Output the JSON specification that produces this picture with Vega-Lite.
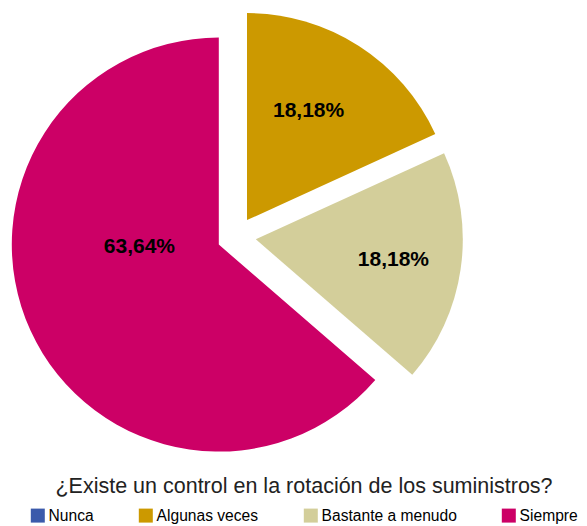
{
  "$schema": "https://vega.github.io/schema/vega-lite/v6.json",
  "width": 463,
  "height": 463,
  "autosize": {"type": "none"},
  "padding": {"left": 5, "top": 5, "right": 119, "bottom": 58},
  "background": "white",
  "data": {
    "values": [
      {"cat": "Nunca", "value": 0, "label": "0,00%"},
      {"cat": "Algunas veces", "value": 18.18, "label": "18,18%"},
      {"cat": "Bastante a menudo", "value": 18.18, "label": "18,18%"},
      {"cat": "Siempre", "value": 63.64, "label": "63,64%"}
    ]
  },
  "encoding": {
    "theta": {"field": "value", "type": "quantitative", "stack": true},
    "order": {"field": "cat", "sort": "ascending"},
    "color": {
      "field": "cat",
      "type": "nominal",
      "scale": {
        "domain": ["Nunca", "Algunas veces", "Bastante a menudo", "Siempre"],
        "range": ["#3B5AAB", "#CC9900", "#D3CE9A", "#CC0066"]
      },
      "legend": {
        "title": "¿Existe un control en la rotación de los suministros?",
        "orient": "none",
        "legendX": 25,
        "legendY": 471,
        "direction": "horizontal",
        "columnPadding": 44,
        "symbolType": "square",
        "symbolSize": 196,
        "symbolStrokeWidth": 0,
        "symbolOpacity": 1,
        "labelFont": "Liberation Sans",
        "labelFontSize": 15.6,
        "labelColor": "#000000",
        "labelOffset": 3,
        "labelLimit": 300,
        "titleFont": "Liberation Sans",
        "titleFontSize": 21.5,
        "titleFontWeight": "normal",
        "titleColor": "#222222",
        "titleAnchor": "middle",
        "titlePadding": 10,
        "titleLimit": 700
      }
    }
  },
  "layer": [
    {
      "mark": {"type": "arc", "radius": 207, "xOffset": 10.5, "yOffset": -16.4},
      "encoding": {"opacity": {"condition": {"test": "datum.cat === 'Algunas veces'", "value": 1}, "value": 0}}
    },
    {
      "mark": {"type": "arc", "radius": 207, "xOffset": 19.3, "yOffset": 2.8},
      "encoding": {"opacity": {"condition": {"test": "datum.cat === 'Bastante a menudo'", "value": 1}, "value": 0}}
    },
    {
      "mark": {"type": "arc", "radius": 207, "xOffset": -17.7, "yOffset": 8.1},
      "encoding": {"opacity": {"condition": {"test": "datum.cat === 'Siempre'", "value": 1}, "value": 0}}
    },
    {
      "mark": {"type": "text", "radius": 125, "xOffset": 10.5, "yOffset": -16.4, "dx": -6, "dy": -4, "font": "Liberation Sans", "fontSize": 21, "fontWeight": "bold", "color": "#000000", "align": "center", "baseline": "middle"},
      "encoding": {
        "text": {"field": "label"},
        "color": {"value": "#000000"},
        "opacity": {"condition": {"test": "datum.cat === 'Algunas veces'", "value": 1}, "value": 0}
      }
    },
    {
      "mark": {"type": "text", "radius": 139, "xOffset": 19.3, "yOffset": 2.8, "dy": 1, "font": "Liberation Sans", "fontSize": 21, "fontWeight": "bold", "color": "#000000", "align": "center", "baseline": "middle"},
      "encoding": {
        "text": {"field": "label"},
        "color": {"value": "#000000"},
        "opacity": {"condition": {"test": "datum.cat === 'Bastante a menudo'", "value": 1}, "value": 0}
      }
    },
    {
      "mark": {"type": "text", "radius": 73, "xOffset": -17.7, "yOffset": 8.1, "dx": -13, "dy": -28, "font": "Liberation Sans", "fontSize": 21, "fontWeight": "bold", "color": "#000000", "align": "center", "baseline": "middle"},
      "encoding": {
        "text": {"field": "label"},
        "color": {"value": "#000000"},
        "opacity": {"condition": {"test": "datum.cat === 'Siempre'", "value": 1}, "value": 0}
      }
    }
  ],
  "config": {"view": {"stroke": null}}
}
